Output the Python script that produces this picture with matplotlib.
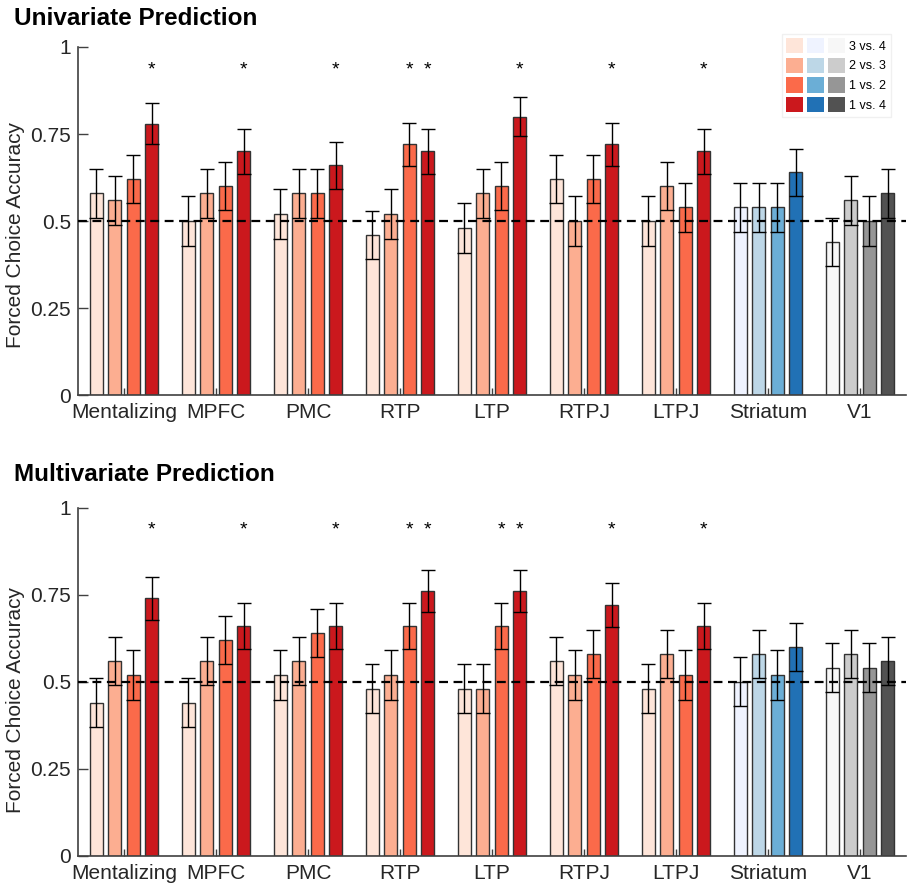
import numpy as np
import matplotlib
matplotlib.use('Agg')
import matplotlib.pyplot as plt
from matplotlib.patches import Patch
from matplotlib.legend_handler import HandlerTuple

plt.rcParams['font.family'] = ['Liberation Sans', 'DejaVu Sans']

# 数据
regions = ['Mentalizing', 'MPFC', 'PMC', 'RTP', 'LTP', 'RTPJ', 'LTPJ', 'Striatum', 'V1']
contrasts = ['3 vs. 4', '2 vs. 3', '1 vs. 2', '1 vs. 4']

uni_vals = [
    [0.58, 0.56, 0.62, 0.78],
    [0.50, 0.58, 0.60, 0.70],
    [0.52, 0.58, 0.58, 0.66],
    [0.46, 0.52, 0.72, 0.70],
    [0.48, 0.58, 0.60, 0.80],
    [0.62, 0.50, 0.62, 0.72],
    [0.50, 0.60, 0.54, 0.70],
    [0.54, 0.54, 0.54, 0.64],
    [0.44, 0.56, 0.50, 0.58],
]
uni_err = [
    [0.070, 0.070, 0.069, 0.059],
    [0.071, 0.070, 0.069, 0.065],
    [0.071, 0.070, 0.070, 0.067],
    [0.070, 0.071, 0.063, 0.065],
    [0.071, 0.070, 0.069, 0.057],
    [0.069, 0.071, 0.069, 0.063],
    [0.071, 0.069, 0.070, 0.065],
    [0.070, 0.070, 0.070, 0.068],
    [0.070, 0.070, 0.071, 0.070],
]
uni_sig = [
    [0, 0, 0, 1], [0, 0, 0, 1], [0, 0, 0, 1], [0, 0, 1, 1], [0, 0, 0, 1],
    [0, 0, 0, 1], [0, 0, 0, 1], [0, 0, 0, 0], [0, 0, 0, 0],
]

multi_vals = [
    [0.44, 0.56, 0.52, 0.74],
    [0.44, 0.56, 0.62, 0.66],
    [0.52, 0.56, 0.64, 0.66],
    [0.48, 0.52, 0.66, 0.76],
    [0.48, 0.48, 0.66, 0.76],
    [0.56, 0.52, 0.58, 0.72],
    [0.48, 0.58, 0.52, 0.66],
    [0.50, 0.58, 0.52, 0.60],
    [0.54, 0.58, 0.54, 0.56],
]
multi_err = [
    [0.070, 0.070, 0.071, 0.062],
    [0.070, 0.070, 0.069, 0.067],
    [0.071, 0.070, 0.068, 0.067],
    [0.071, 0.071, 0.067, 0.060],
    [0.071, 0.071, 0.067, 0.060],
    [0.070, 0.071, 0.070, 0.063],
    [0.071, 0.070, 0.071, 0.067],
    [0.071, 0.070, 0.071, 0.069],
    [0.070, 0.070, 0.070, 0.070],
]
multi_sig = [
    [0, 0, 0, 1], [0, 0, 0, 1], [0, 0, 0, 1], [0, 0, 1, 1], [0, 0, 1, 1],
    [0, 0, 0, 1], [0, 0, 0, 1], [0, 0, 0, 0], [0, 0, 0, 0],
]

reds = ['#fee5d9', '#fcae91', '#fb6a4a', '#cb181d']
blues = ['#eff3ff', '#bdd7e7', '#6baed6', '#2171b5']
greys = ['#f7f7f7', '#cccccc', '#969696', '#525252']
palette = [reds] * 7 + [blues, greys]

offsets = [-0.3, -0.1, 0.1, 0.3]
bar_w = 0.14


def draw_panel(ax, vals, errs, sig):
    for g in range(len(regions)):
        for k in range(4):
            x = g + 1 + offsets[k]
            ax.bar(x, vals[g][k], width=bar_w, color=palette[g][k],
                   edgecolor='#333333', linewidth=1.0, zorder=2)
            ax.errorbar(x, vals[g][k], yerr=errs[g][k], color='black',
                        elinewidth=1.0, capsize=5, capthick=1.0, zorder=4)
            if sig[g][k]:
                ax.text(x, 0.935, '*', ha='center', va='center', fontsize=14, zorder=5)
    ax.axhline(0.5, color='black', linestyle=(0, (4, 2.5)), linewidth=1.6, zorder=3)
    ax.set_xlim(0.5, 9.5)
    ax.set_ylim(0, 1)
    ax.set_xticks(np.arange(1, len(regions) + 1))
    ax.set_xticklabels(regions)
    ax.set_yticks([0, 0.25, 0.5, 0.75, 1])
    ax.set_yticklabels(['0', '0.25', '0.5', '0.75', '1'])
    ax.tick_params(axis='both', direction='in', labelsize=15, colors='#404040',
                   labelcolor='#262626', width=1.0)
    ax.tick_params(axis='y', length=7, pad=5)
    ax.tick_params(axis='x', length=5, pad=6)
    for s in ['top', 'right']:
        ax.spines[s].set_visible(False)
    for s in ['left', 'bottom']:
        ax.spines[s].set_color('#404040')
        ax.spines[s].set_linewidth(1.2)


fig = plt.figure(figsize=(9.07, 8.86), dpi=100)
ax1 = fig.add_axes([0.086, 0.554, 0.913, 0.393])
ax2 = fig.add_axes([0.086, 0.034, 0.913, 0.393])

draw_panel(ax1, uni_vals, uni_err, uni_sig)
draw_panel(ax2, multi_vals, multi_err, multi_sig)

fig.text(0.017, 0.735, 'Forced Choice Accuracy', rotation=90, fontsize=15,
         color='#262626', ha='center', va='center')
fig.text(0.017, 0.21, 'Forced Choice Accuracy', rotation=90, fontsize=15,
         color='#262626', ha='center', va='center')

fig.text(0.015, 0.979, 'Univariate Prediction', fontsize=17.5, fontweight='bold', va='center')
fig.text(0.015, 0.465, 'Multivariate Prediction', fontsize=17.5, fontweight='bold', va='center')

# 图例
handles = []
for k in range(4):
    handles.append((Patch(facecolor=reds[k], edgecolor='none'),
                    Patch(facecolor=blues[k], edgecolor='none'),
                    Patch(facecolor=greys[k], edgecolor='none')))
fig.legend(handles, contrasts, handler_map={tuple: HandlerTuple(ndivide=None, pad=0.28)},
           loc='upper right', bbox_to_anchor=(0.982, 0.962), fontsize=9,
           handlelength=4.7, handleheight=1.5, labelspacing=0.35, handletextpad=0.35,
           borderpad=0.35, borderaxespad=0.0, frameon=True, fancybox=False,
           edgecolor='#f0f0f0', framealpha=1.0)

plt.savefig('out.png', dpi=100)
